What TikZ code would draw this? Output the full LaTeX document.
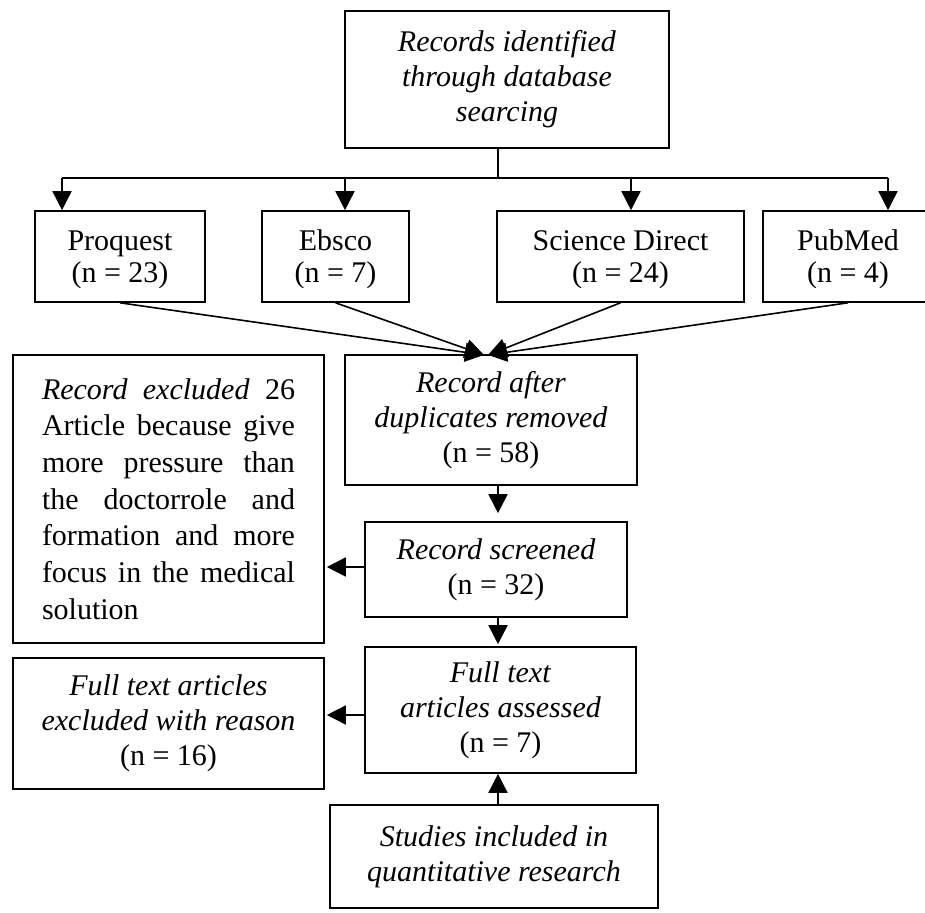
\documentclass[tikz,border=0pt]{standalone}
\usepackage{fontspec}
\setmainfont{Liberation Serif}
\usetikzlibrary{arrows.meta}
\begin{document}
\begin{tikzpicture}[x=1pt,y=-1pt,
  box/.style={draw, line width=1.6pt, inner sep=0pt, align=center,
    font=\fontsize{30}{35}\selectfont},
  txt/.style={inner sep=0pt, align=center, font=\fontsize{30}{32}\selectfont},
  arr/.style={line width=1.6pt, -{Triangle[length=19pt,width=19pt]}},
  ln/.style={line width=1.6pt}]
\useasboundingbox[fill=white] (0,0) rectangle (925,912);

% boxes
\node[box, minimum width=324pt, minimum height=137pt] (top) at (507,79.5)
  {\textit{Records identified}\\\textit{through database}\\\textit{searcing}};
\node[box, minimum width=170pt, minimum height=91pt] (proq) at (120,256.5) {};
\node[box, minimum width=147pt, minimum height=91pt] (ebsco) at (335.5,256.5) {};
\node[box, minimum width=247pt, minimum height=91pt] (sd) at (620.5,256.5) {};
\node[box, minimum width=170pt, minimum height=91pt] (pub) at (848,256.5) {};
\begin{scope}
  \clip (0,213) rectangle (925,287);
  \node[txt] (proqt) at ([yshift=-3pt]proq.center) {Proquest\\(n = 23)};
  \node[txt] (ebscot) at ([yshift=-3pt]ebsco.center) {Ebsco\\(n = 7)};
  \node[txt] (sdt) at ([yshift=-3pt]sd.center) {Science Direct\\(n = 24)};
  \node[txt] (pubt) at ([yshift=-3pt]pub.center) {PubMed\\(n = 4)};
\end{scope}
\node[box, minimum width=292pt, minimum height=130pt] (rad) at (491,420)
  {\textit{Record after}\\\textit{duplicates removed}\\(n = 58)};
\node[box, minimum width=311pt, minimum height=288pt, align=left,
  font=\fontsize{30}{36.7}\selectfont] (ex1) at (168.5,499)
  {\makebox[253pt][s]{\textit{Record excluded} 26}\\
   \makebox[253pt][s]{Article because give}\\
   \makebox[253pt][s]{more pressure than}\\
   \makebox[253pt][s]{the doctorrole and}\\
   \makebox[253pt][s]{formation and more}\\
   \makebox[253pt][s]{focus in the medical}\\
   \makebox[253pt][l]{solution}};
\node[box, minimum width=262pt, minimum height=95pt] (scr) at (496,569.5)
  {\textit{Record screened}\\(n = 32)};
\node[box, minimum width=271pt, minimum height=126pt] (fta) at (500.5,710)
  {\textit{Full text}\\\textit{articles assessed}\\(n = 7)};
\node[box, minimum width=311pt, minimum height=131pt] (ex2) at (168.5,723.5)
  {\textit{Full text articles}\\\textit{excluded with reason}\\(n = 16)};
\node[box, minimum width=328pt, minimum height=103pt] (stud) at (494,856.5)
  {\textit{Studies included in}\\\textit{quantitative research}};

% distribution bus
\coordinate (j) at (498,178);
\coordinate (b1) at (62,178);
\coordinate (b2) at (345,178);
\coordinate (b3) at (631,178);
\coordinate (b4) at (888,178);
\draw[ln] (j |- top.south) -- (j);
\draw[ln] (b1) -- (b4);
\draw[arr] (b1) -- (b1 |- proq.north);
\draw[arr] (b2) -- (b2 |- ebsco.north);
\draw[arr] (b3) -- (b3 |- sd.north);
\draw[arr] (b4) -- (b4 |- pub.north);

% converging arrows
\coordinate (cL) at (484,355);
\coordinate (cR) at (488,355);
\draw[arr] (proq.south) -- (cL);
\draw[arr] (ebsco.south) -- (cL);
\draw[arr] (sd.south) -- (cR);
\draw[arr] (pub.south) -- (cR);

% main column
\coordinate (m1) at (498,485);
\draw[arr, shorten >=8pt] (m1) -- (m1 |- scr.north);
\coordinate (m2) at (498,617);
\draw[arr, shorten >=2pt] (m2) -- (m2 |- fta.north);
\coordinate (m3) at (498,805);
\draw[arr] (m3) -- (m3 |- fta.south);

% side arrows
\coordinate (s1) at (365,567);
\draw[arr, shorten >=2pt] (s1) -- (s1 -| ex1.east);
\coordinate (s2) at (365,715);
\draw[arr, shorten >=2pt] (s2) -- (s2 -| ex2.east);
\end{tikzpicture}
\end{document}
